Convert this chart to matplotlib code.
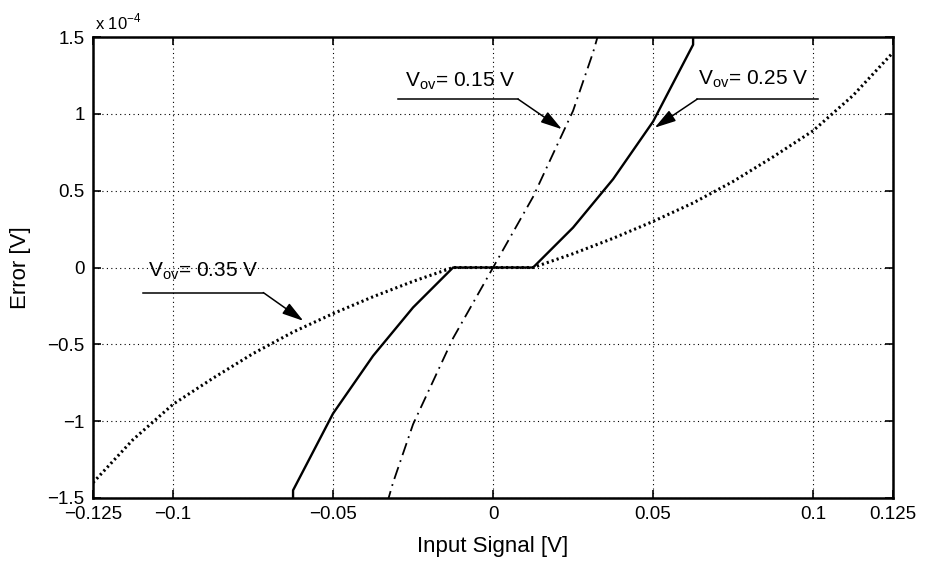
import matplotlib
matplotlib.use("Agg")
import matplotlib.pyplot as plt

plt.rcParams['font.family'] = ['Liberation Sans', 'DejaVu Sans']
plt.rcParams['mathtext.fontset'] = 'custom'
plt.rcParams['mathtext.rm'] = 'Liberation Sans'
plt.rcParams['axes.unicode_minus'] = True

# --- data (error in units of 1e-4 V) ---
x_015 = [-0.0375, -0.03125, -0.025, -0.01875, -0.0125, -0.00625, 0.0,
         0.00625, 0.0125, 0.01875, 0.025, 0.03125, 0.0375]
err_015 = [-1.85, -1.40, -1.02, -0.74, -0.46, -0.23, 0.0,
           0.23, 0.46, 0.74, 1.02, 1.40, 1.85]

x_025 = [-0.0625, -0.0625, -0.05, -0.0375, -0.025, -0.0125, 0.0,
         0.0125, 0.025, 0.0375, 0.05, 0.0625, 0.0625]
err_025 = [-1.60, -1.45, -0.95, -0.575, -0.26, 0.0, 0.0,
           0.0, 0.26, 0.575, 0.95, 1.45, 1.60]

x_035 = [-0.125, -0.1125, -0.1, -0.0875, -0.075, -0.0625, -0.05, -0.0375,
         -0.025, -0.0125, 0.0, 0.0125, 0.025, 0.0375, 0.05, 0.0625, 0.075,
         0.0875, 0.1, 0.1125, 0.125]
err_035 = [-1.40, -1.12, -0.89, -0.72, -0.56, -0.42, -0.30, -0.19,
           -0.09, 0.0, 0.0, 0.0, 0.09, 0.19, 0.30, 0.42, 0.56,
           0.72, 0.89, 1.12, 1.40]

xticks = [-0.125, -0.1, -0.05, 0, 0.05, 0.1, 0.125]
xtick_labels = ['\u22120.125', '\u22120.1', '\u22120.05', '0', '0.05', '0.1', '0.125']
yticks = [-1.5, -1, -0.5, 0, 0.5, 1, 1.5]
ytick_labels = ['\u22121.5', '\u22121', '\u22120.5', '0', '0.5', '1', '1.5']

fig = plt.figure(figsize=(9.35, 5.61), dpi=100)
ax = fig.add_axes([0.0995, 0.1123, 0.8557, 0.8217])

ax.plot(x_015, err_015, color='black', lw=1.3, linestyle=(0, (7, 3, 1, 3)))
ax.plot(x_025, err_025, color='black', lw=1.7, linestyle='-')
ax.plot(x_035, err_035, color='black', lw=2.2, linestyle=(0, (0.7, 1.0)))

ax.set_xlim(-0.125, 0.125)
ax.set_ylim(-1.5, 1.5)
ax.set_xticks(xticks)
ax.set_xticklabels(xtick_labels)
ax.set_yticks(yticks)
ax.set_yticklabels(ytick_labels)
ax.tick_params(direction='in', length=6, width=1.2, labelsize=13.5, top=True, right=True,
               pad=6)
for s in ax.spines.values():
    s.set_linewidth(1.8)
ax.grid(True, color='black', linestyle=(0, (1, 3)), linewidth=0.8)

ax.set_xlabel('Input Signal [V]', fontsize=16, labelpad=9)
ax.set_ylabel('Error [V]', fontsize=16, labelpad=12)
ax.text(0.003, 1.01, r'x 10$^{-4}$', transform=ax.transAxes, fontsize=12,
        ha='left', va='bottom')

# annotations: label text, underline, arrow
labels = [
    (r'V$_{\mathrm{ov}}$= 0.15 V', (-0.0275, 1.18), (-0.0297, 0.0078, 1.096), (0.0215, 0.90)),
    (r'V$_{\mathrm{ov}}$= 0.25 V', (0.064, 1.19), (0.1016, 0.0638, 1.096), (0.0505, 0.91)),
    (r'V$_{\mathrm{ov}}$= 0.35 V', (-0.1077, -0.055), (-0.1093, -0.0718, -0.163), (-0.0593, -0.347)),
]
for txt, tpos, (ux0, ux1, uy), tip in labels:
    ax.text(tpos[0], tpos[1], txt, fontsize=15, ha='left', va='baseline')
    ax.plot([ux0, ux1], [uy, uy], color='black', lw=1.1)
    ax.annotate('', xy=tip, xytext=(ux1, uy),
                arrowprops=dict(arrowstyle='-|>,head_length=1.3,head_width=0.38',
                                color='black', lw=1.1, shrinkA=0, shrinkB=0))

fig.savefig('out.png', dpi=100)
